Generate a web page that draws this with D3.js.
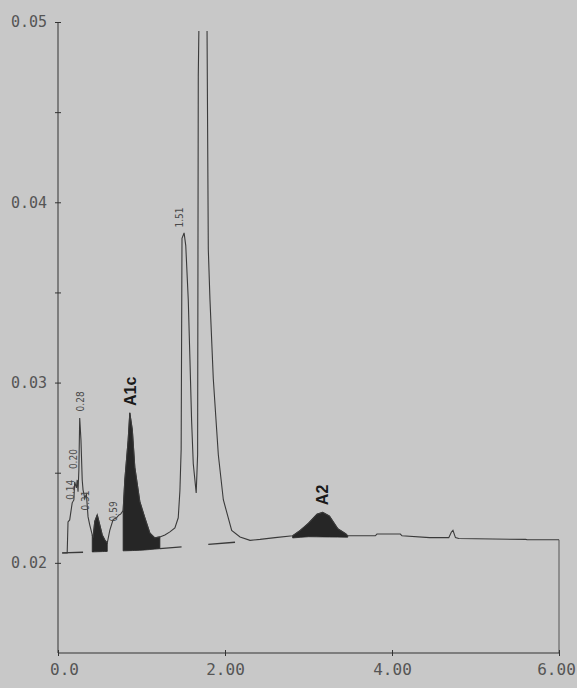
<!DOCTYPE html>
<html>
<head>
<meta charset="utf-8">
<script src="https://cdn.jsdelivr.net/npm/d3@7"></script>
<style>
  body { margin: 0; background: #c8c8c8; }
  svg { display: block; }
  .tick text { font-family: "DejaVu Sans Mono", monospace; fill: #555; }
</style>
</head>
<body>
<svg id="viz" width="577" height="688"></svg>
<script>
// retention time (min) and detector signal
var times = [0.05, 0.11, 0.12, 0.14, 0.17, 0.19, 0.20, 0.22, 0.23, 0.24, 0.25, 0.26, 0.275, 0.29, 0.30,
  0.32, 0.34, 0.36, 0.38, 0.41, 0.42, 0.44, 0.47, 0.49, 0.53, 0.56, 0.59, 0.62, 0.66, 0.70, 0.73, 0.75,
  0.78, 0.80, 0.84, 0.86, 0.89, 0.92, 0.98, 1.04, 1.10, 1.16, 1.22, 1.28, 1.34, 1.40, 1.44, 1.46, 1.475,
  1.485, 1.51, 1.53, 1.56, 1.58, 1.60, 1.62, 1.655, 1.672, 1.68, 1.73, 1.785, 1.80, 1.82, 1.86, 1.90,
  1.92, 1.98, 2.08, 2.18, 2.30, 2.42, 2.60, 2.81, 2.90, 3.00, 3.10, 3.17, 3.25, 3.35, 3.45, 3.47, 3.80,
  3.82, 4.10, 4.12, 4.45, 4.68, 4.71, 4.73, 4.76, 4.80, 5.60, 5.62, 6.00];
var signal = [0.02055, 0.02055, 0.02227, 0.02238, 0.02333, 0.02349, 0.02449, 0.02416, 0.0246, 0.02394, 0.02516, 0.02804, 0.02682, 0.0246, 0.02405,
  0.0236, 0.0238, 0.02255, 0.02211, 0.02155, 0.0214, 0.0223, 0.02266, 0.0223, 0.02155, 0.02128, 0.0211, 0.0218, 0.0224, 0.0225, 0.02266, 0.0227,
  0.0229, 0.0246, 0.0268, 0.02832, 0.02738, 0.0253, 0.0234, 0.0225, 0.02166, 0.02139, 0.02144, 0.02155, 0.02172, 0.02194, 0.0225, 0.0240, 0.0263,
  0.0380, 0.0383, 0.0376, 0.0346, 0.0313, 0.0279, 0.0255, 0.02388, 0.0260, 0.0470, 0.0650, 0.0495, 0.0374, 0.0346, 0.0302, 0.0274,
  0.0260, 0.0235, 0.0218, 0.02144, 0.02125, 0.0213, 0.0214, 0.0215, 0.0218, 0.0222, 0.0227, 0.0228, 0.0226, 0.0219, 0.0216, 0.0215, 0.0215,
  0.0216, 0.0216, 0.0215, 0.0214, 0.0214, 0.0217, 0.0218, 0.0214, 0.02135, 0.0213, 0.02128, 0.02128];

// integrated (shaded) peaks, dropped to the baseline
var fillStart = [0.41, 0.78, 2.81];
var fillEnd = [0.59, 1.22, 3.47];

// integration baseline
var baseTimes = [0.05, 1.00, 2.00, 3.00, 6.00];
var baseSignal = [0.02055, 0.0207, 0.0211, 0.02145, 0.02128];
// where the baseline shows as a separate line
var baseSegStart = [0.05, 1.22, 1.80];
var baseSegEnd = [0.30, 1.48, 2.12];

// peak labels
var peakNames = ["0.14", "0.20", "0.28", "0.31", "0.59", "A1c", "1.51", "A2"];
var peakTimes = [0.15, 0.19, 0.265, 0.33, 0.66, 0.86, 1.45, 3.17];
var labelBase = [0.0235, 0.0252, 0.0284, 0.0229, 0.0223, 0.0287, 0.0386, 0.0232];
var labelBold = [false, false, false, false, false, true, false, true];

var yTicks = [0.02, 0.025, 0.03, 0.035, 0.04, 0.045, 0.05];
var yTickLabels = ["0.02", "", "0.03", "", "0.04", "", "0.05"];
var xTicks = [0, 2, 4, 6];
var xTickLabels = ["0.0", "2.00", "4.00", "6.00"];

var svg = d3.select("#viz");

var x = d3.scaleLinear().domain([0, 6]).range([58, 559]);
var y = d3.scaleLinear().domain([0.015, 0.05]).range([653, 22]);

var data = times.map(function(t, i) { return {t: t, v: signal[i]}; });

svg.append("clipPath").attr("id", "plotclip")
  .append("rect")
  .attr("x", x(0)).attr("y", y(0.0495))
  .attr("width", x(6) - x(0) + 2).attr("height", y(0.015) - y(0.0495));

var plot = svg.append("g").attr("clip-path", "url(#plotclip)");

function interp(ts, vs, t) {
  var i = d3.bisectLeft(ts, t);
  if (i <= 0) return vs[0];
  if (i >= ts.length) return vs[vs.length - 1];
  var f = (t - ts[i - 1]) / (ts[i] - ts[i - 1]);
  return vs[i - 1] + f * (vs[i] - vs[i - 1]);
}
function traceAt(t) { return interp(times, signal, t); }
function baseAt(t) { return interp(baseTimes, baseSignal, t); }

// shaded peaks
fillStart.forEach(function(s, k) {
  var e = fillEnd[k];
  var pts = [{t: s, v: traceAt(s)}];
  data.forEach(function(d) { if (d.t > s && d.t < e) pts.push(d); });
  pts.push({t: e, v: traceAt(e)});
  var area = d3.area()
    .x(function(d) { return x(d.t); })
    .y0(function(d) { return y(baseAt(d.t)); })
    .y1(function(d) { return y(d.v); });
  plot.append("path")
    .datum(pts)
    .attr("d", area)
    .style("fill", "#262626")
    .style("stroke", "#262626")
    .style("stroke-width", 0.8);
});

// baseline pieces
baseSegStart.forEach(function(s, k) {
  var e = baseSegEnd[k];
  plot.append("line")
    .attr("x1", x(s)).attr("y1", y(baseAt(s)))
    .attr("x2", x(e)).attr("y2", y(baseAt(e)))
    .style("stroke", "#3a3a3a")
    .style("stroke-width", 1.3);
});

// trace
plot.append("path")
  .datum(data)
  .attr("d", d3.line().x(function(d) { return x(d.t); }).y(function(d) { return y(d.v); }))
  .style("fill", "none")
  .style("stroke", "#3a3a3a")
  .style("stroke-width", 1.1);

// end of run drop line
svg.append("line")
  .attr("x1", x(6)).attr("x2", x(6))
  .attr("y1", y(signal[signal.length - 1])).attr("y2", y(0.015))
  .style("stroke", "#555");

// axes
var yAxis = svg.append("g")
  .attr("transform", "translate(" + x(0) + ",0)")
  .call(d3.axisLeft(y).tickValues(yTicks).tickSize(4).tickPadding(7)
    .tickFormat(function(d, i) { return yTickLabels[i]; }));
yAxis.selectAll(".tick line").attr("x1", -3).attr("x2", 3).style("stroke", "#333");
yAxis.select(".domain").attr("d", "M0," + y(0.05) + "V" + y(0.015)).style("stroke", "#333");
yAxis.selectAll(".tick text").style("font-size", "15px");

var xAxis = svg.append("g")
  .attr("transform", "translate(0," + y(0.015) + ")")
  .call(d3.axisBottom(x).tickValues(xTicks).tickSize(3).tickPadding(8)
    .tickFormat(function(d, i) { return xTickLabels[i]; }));
xAxis.selectAll(".tick line").attr("y1", -3).attr("y2", 3).style("stroke", "#333");
xAxis.select(".domain").attr("d", "M" + x(0) + ",0H" + x(6)).style("stroke", "#333");
xAxis.selectAll(".tick text").style("font-size", "16px")
  .attr("dx", function(d, i) { return i == 0 ? 6 : (i == xTicks.length - 1 ? -3 : 0); });

// peak labels
svg.selectAll("text.peak")
  .data(peakNames)
  .enter()
  .append("text")
  .classed("peak", true)
  .attr("transform", function(d, i) {
    var fs = labelBold[i] ? 16 : 10;
    return "translate(" + (x(peakTimes[i]) + fs * 0.36) + "," + y(labelBase[i]) + ") rotate(-90)";
  })
  .style("font-family", function(d, i) { return labelBold[i] ? "Liberation Sans, Arial, sans-serif" : "DejaVu Sans Condensed, sans-serif"; })
  .style("font-size", function(d, i) { return labelBold[i] ? "16px" : "10px"; })
  .style("font-weight", function(d, i) { return labelBold[i] ? "bold" : "normal"; })
  .style("fill", function(d, i) { return labelBold[i] ? "#1a1a1a" : "#4a4a4a"; })
  .text(function(d) { return d; });
</script>
</body>
</html>
